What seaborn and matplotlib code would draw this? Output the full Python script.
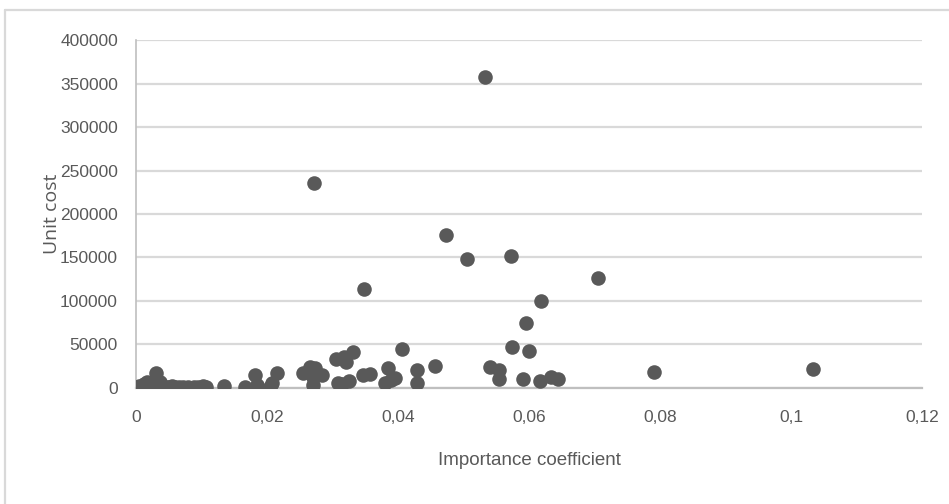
import numpy as np
import pandas as pd
import matplotlib
matplotlib.use("Agg")
import matplotlib.pyplot as plt
import seaborn as sns
from matplotlib.lines import Line2D

# === Data ===
importance = [
    0.0002, 0.0005, 0.0008, 0.0010, 0.0012, 0.0015, 0.0017, 0.0019, 0.0022, 0.0025,
    0.0028, 0.0030, 0.0031, 0.0034, 0.0037, 0.0040, 0.0042, 0.0046, 0.0050, 0.0055,
    0.0060, 0.0065, 0.0072, 0.0080, 0.0088, 0.0095, 0.0103, 0.0107,
    0.0134, 0.0166, 0.0182, 0.0185, 0.0205, 0.0208, 0.0215,
    0.0255, 0.0266, 0.0273, 0.0270, 0.0284, 0.0270, 0.0272,
    0.0305, 0.0318, 0.0321, 0.0331, 0.0308, 0.0315, 0.0325,
    0.0347, 0.0358, 0.0348,
    0.0385, 0.0380, 0.0390, 0.0395, 0.0406, 0.0429, 0.0429, 0.0456, 0.0473,
    0.0505, 0.0533, 0.0540, 0.0554, 0.0554, 0.0573, 0.0574,
    0.0600, 0.0595, 0.0618, 0.0591, 0.0617, 0.0634, 0.0644,
    0.0706, 0.0791, 0.1034,
]
unit_cost = [
    500, 2000, 300, 1500, 4000, 800, 6900, 200, 2500, 1000,
    3500, 17000, 500, 1200, 6500, 2000, 400, 1500, 800, 1800,
    600, 1400, 900, 1700, 1000, 1500, 2800, 1200,
    2300, 1100, 14900, 3500, 1500, 5700, 17200,
    17200, 24100, 23000, 12600, 14900, 3400, 235600,
    33000, 36000, 30000, 41400, 5700, 5000, 8000,
    14900, 16100, 113800,
    23000, 5700, 9000, 11500, 44800, 20700, 5700, 25300, 175800,
    148200, 357300, 24100, 21000, 10300, 151700, 47100,
    42500, 74700, 99500, 10300, 8500, 13000, 10300,
    127000, 17800, 21800,
]

x_ticks = [0, 0.02, 0.04, 0.06, 0.08, 0.1, 0.12]
x_tick_labels = ["0", "0,02", "0,04", "0,06", "0,08", "0,1", "0,12"]
y_ticks = [0, 50000, 100000, 150000, 200000, 250000, 300000, 350000, 400000]
y_tick_labels = ["0", "50000", "100000", "150000", "200000", "250000", "300000", "350000", "400000"]

df = pd.DataFrame({"importance": importance, "unit_cost": unit_cost})

# === Style ===
sns.set_style("white")
plt.rcParams["font.family"] = ["Liberation Sans", "DejaVu Sans"]
text_color = "#595959"
grid_color = "#d9d9d9"
dot_color = "#595959"

fig = plt.figure(figsize=(9.49, 5.04), dpi=100)
ax = fig.add_axes([0.1433, 0.2302, 0.8282, 0.6904])

ax.yaxis.grid(True, color=grid_color, linewidth=1.6, zorder=0)
ax.set_axisbelow(True)

sns.scatterplot(
    data=df,
    x="importance",
    y="unit_cost",
    color=dot_color,
    s=110,
    linewidth=0,
    ax=ax,
    zorder=3,
)

ax.set_xlim(0, 0.12)
ax.set_ylim(0, 400000)
ax.set_xticks(x_ticks)
ax.set_xticklabels(x_tick_labels)
ax.set_yticks(y_ticks)
ax.set_yticklabels(y_tick_labels)

ax.tick_params(axis="both", colors=text_color, labelsize=12.5, length=6, width=1.2,
               direction="out")
ax.tick_params(axis="x", pad=10, color="#bfbfbf")
ax.tick_params(axis="y", pad=7, color="#bfbfbf")

for side in ["top", "right"]:
    ax.spines[side].set_visible(False)
ax.spines["left"].set_color("#bfbfbf")
ax.spines["bottom"].set_color("#bfbfbf")
ax.spines["left"].set_linewidth(1.2)
ax.spines["bottom"].set_linewidth(1.6)

ax.set_xlabel("Importance coefficient", color=text_color, fontsize=13.5)
ax.xaxis.set_label_coords(0.5, -0.185)
ax.set_ylabel("Unit cost", color=text_color, fontsize=14,
              family=["Open Sans", "DejaVu Sans"])
ax.yaxis.set_label_coords(-0.095, 0.5)

# === Outer chart frame (top and left edges visible) ===
fig.add_artist(Line2D([5 / 949, 5 / 949], [0, 1 - 10 / 504], transform=fig.transFigure,
                      color=grid_color, linewidth=1.6))
fig.add_artist(Line2D([5 / 949, 1], [1 - 10 / 504, 1 - 10 / 504], transform=fig.transFigure,
                      color=grid_color, linewidth=1.6))

plt.savefig("out.png", dpi=100)
